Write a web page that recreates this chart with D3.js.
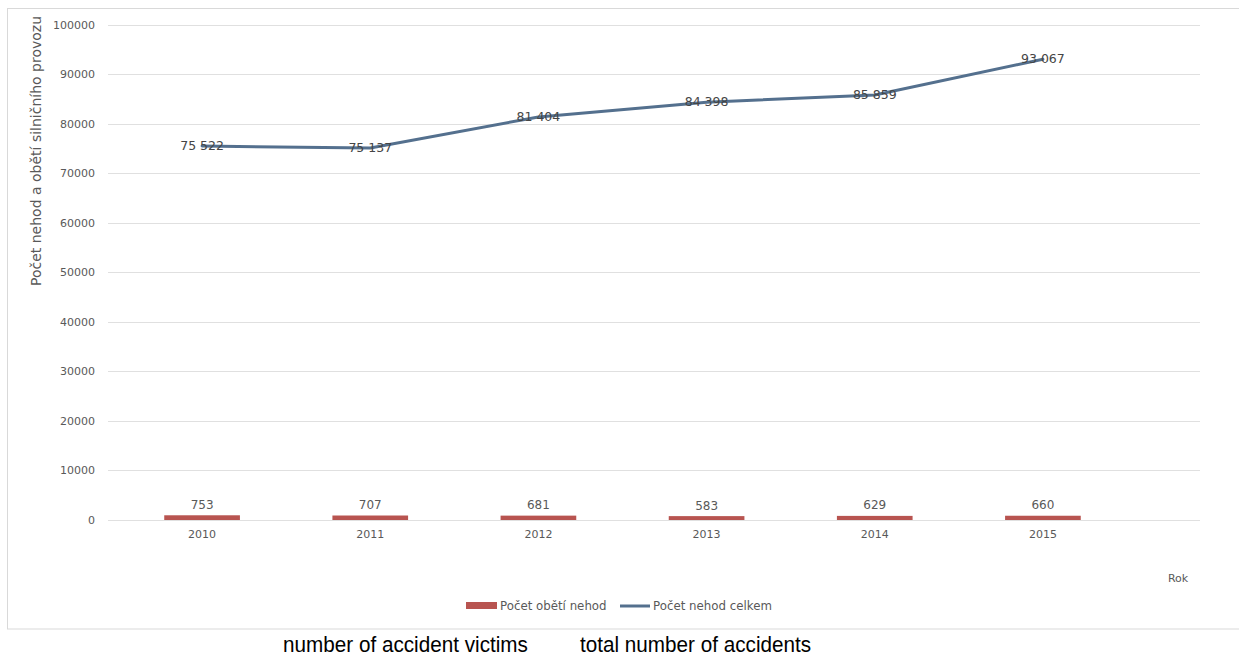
<!DOCTYPE html>
<html>
<head>
<meta charset="utf-8">
<script src="https://cdn.jsdelivr.net/npm/d3@7"></script>
<style>
  html, body { margin: 0; padding: 0; background: #ffffff; }
  svg { display: block; }
</style>
</head>
<body>
<svg id="chart" width="1239" height="658"></svg>
<script>
// Road accidents in Czechia, 2010–2015
const years = ["2010", "2011", "2012", "2013", "2014", "2015"];
const victims = [753, 707, 681, 583, 629, 660];              // Počet obětí nehod
const accidents = [75522, 75137, 81404, 84398, 85859, 93067]; // Počet nehod celkem
const yTicks = [0, 10000, 20000, 30000, 40000, 50000, 60000, 70000, 80000, 90000, 100000];
const seriesNames = ["Počet obětí nehod", "Počet nehod celkem"];
const captions = ["number of accident victims", "total number of accidents"];

const svg = d3.select("#chart");
const font = "'DejaVu Sans', sans-serif";
const barColor = "#b85450";
const lineColor = "#54708e";
const textColor = "#595959";

// chart frame
svg.append("rect")
  .attr("x", 7.5).attr("y", 8.5).attr("width", 1240).attr("height", 620.5)
  .attr("fill", "none").attr("stroke", "#d9d9d9").attr("stroke-width", 1);

const x = d3.scaleBand().domain(years).range([118, 1127]).paddingInner(0.55).paddingOuter(0.275);
const y = d3.scaleLinear().domain([0, 100000]).range([519.5, 25]);

// horizontal gridlines
svg.append("g").selectAll("line").data(yTicks).join("line")
  .attr("x1", 108).attr("x2", 1200)
  .attr("y1", d => Math.round(y(d)) + 0.5).attr("y2", d => Math.round(y(d)) + 0.5)
  .attr("stroke", "#e0e0e0").attr("stroke-width", 1);

// y axis labels
const yAxis = d3.axisLeft(y).tickValues(yTicks).tickSize(0).tickPadding(0).tickFormat(d3.format("d"));
svg.append("g").attr("transform", "translate(95,0)").call(yAxis)
  .call(g => g.select(".domain").remove())
  .call(g => g.selectAll("text").attr("font-family", font).attr("font-size", 11).attr("fill", textColor));

// x axis labels
const xAxis = d3.axisBottom(x).tickSize(0).tickPadding(0);
svg.append("g").attr("transform", "translate(0,530)").call(xAxis)
  .call(g => g.select(".domain").remove())
  .call(g => g.selectAll("text").attr("font-family", font).attr("font-size", 11).attr("fill", textColor));

// y axis title
svg.append("text")
  .attr("transform", "translate(41,151) rotate(-90)")
  .attr("text-anchor", "middle")
  .attr("font-family", font).attr("font-size", 14).attr("fill", textColor)
  .text("Počet nehod a obětí silničního provozu");

// x axis title
svg.append("text")
  .attr("x", 1178).attr("y", 582).attr("text-anchor", "middle")
  .attr("font-family", font).attr("font-size", 11).attr("fill", textColor)
  .text("Rok");

// victims bars
svg.append("g").selectAll("rect").data(victims).join("rect")
  .attr("x", (d, i) => x(years[i]))
  .attr("width", x.bandwidth())
  .attr("y", d => y(d) - 0.5)
  .attr("height", d => y(0) - y(d) + 1)
  .attr("fill", barColor);

svg.append("g").selectAll("text").data(victims).join("text")
  .attr("x", (d, i) => x(years[i]) + x.bandwidth() / 2)
  .attr("y", d => y(d) - 7)
  .attr("text-anchor", "middle")
  .attr("font-family", font).attr("font-size", 12).attr("fill", textColor)
  .text(d => d);

// accidents line
const cx = i => x(years[i]) + x.bandwidth() / 2;
const line = d3.line().x((d, i) => cx(i)).y(d => y(d));
svg.append("path").datum(accidents)
  .attr("d", line)
  .attr("fill", "none").attr("stroke", lineColor).attr("stroke-width", 3)
  .attr("stroke-linejoin", "round").attr("stroke-linecap", "round");

const fmt = d => d3.format(",")(d).replace(",", " ");
svg.append("g").selectAll("text").data(accidents).join("text")
  .attr("x", (d, i) => cx(i))
  .attr("y", d => y(d) + 4)
  .attr("text-anchor", "middle")
  .attr("font-family", font).attr("font-size", 12.5).attr("fill", "#454545")
  .text(d => fmt(d));

// legend
const lg = svg.append("g").attr("font-family", font).attr("font-size", 11.8).attr("fill", textColor);
lg.append("rect").attr("x", 466).attr("y", 602).attr("width", 31).attr("height", 7).attr("fill", barColor);
lg.append("text").attr("x", 500).attr("y", 610).text(seriesNames[0]);
lg.append("line").attr("x1", 620).attr("x2", 650).attr("y1", 606).attr("y2", 606)
  .attr("stroke", lineColor).attr("stroke-width", 3);
lg.append("text").attr("x", 653).attr("y", 610).text(seriesNames[1]);

// English captions under the chart
svg.append("g").attr("font-family", "'Liberation Sans', Arial, sans-serif").attr("font-size", 22.5).attr("fill", "#000")
  .selectAll("text").data(captions).join("text")
  .attr("transform", (d, i) => `translate(${[283, 580][i]},652) scale(0.92,1)`)
  .text(d => d);
</script>
</body>
</html>
